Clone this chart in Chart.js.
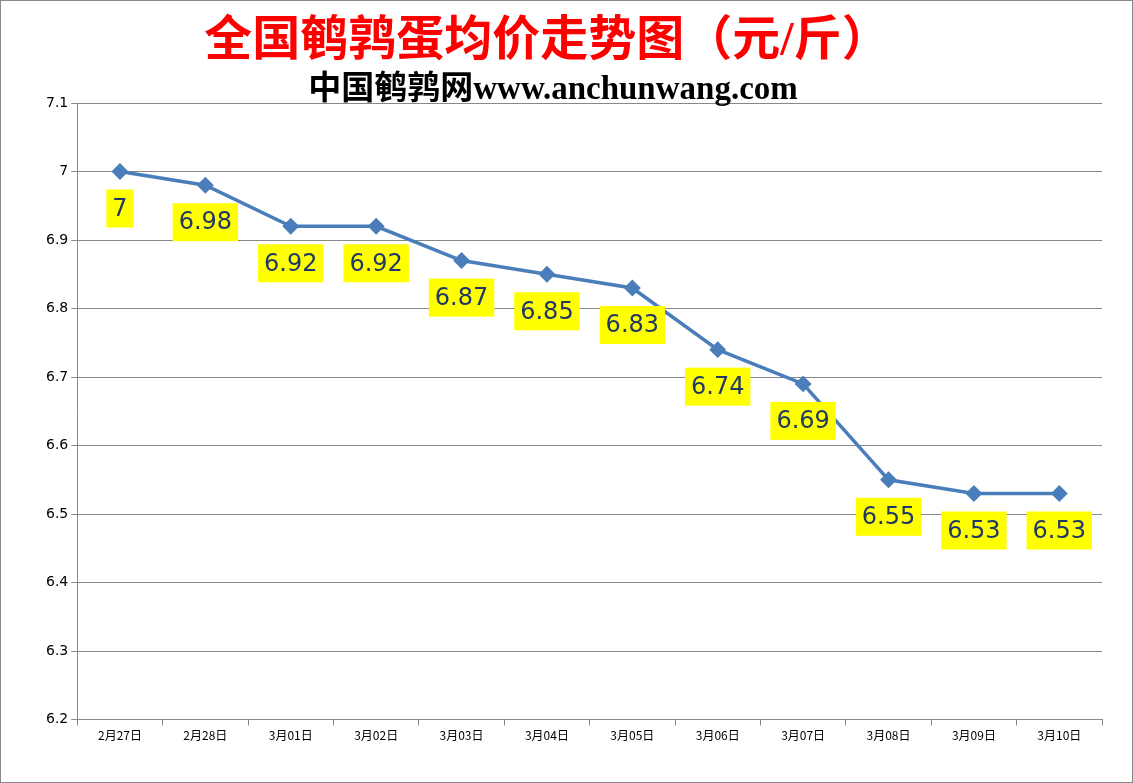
<!DOCTYPE html>
<html>
<head>
<meta charset="utf-8">
<script src="https://cdn.jsdelivr.net/npm/chart.js@4"></script>
<style>
  html, body { margin: 0; padding: 0; background: #fff; }
  #wrap { position: relative; width: 1131px; height: 781px; border: 1px solid #888; }
  #t1 { position: absolute; left: 0; width: 1092px; top: -2px; text-align: center;
        font: bold 48px "Liberation Serif", "Noto Sans CJK SC", serif; color: #ff0000; }
  #t2 { position: absolute; left: 0; width: 1104px; top: 60px; text-align: center;
        font: bold 33px "Liberation Serif", "Noto Sans CJK SC", serif; color: #000; }
  canvas { position: absolute; left: 0; top: 0; }
</style>
</head>
<body>
<div id="wrap">
  <canvas id="c" width="1131" height="781"></canvas>
  <div id="t1">全国鹌鹑蛋均价走势图（元/斤）</div>
  <div id="t2">中国鹌鹑网www.anchunwang.com</div>
</div>
<script>
// chart data
const categories = ['2月27日', '2月28日', '3月01日', '3月02日', '3月03日', '3月04日',
                    '3月05日', '3月06日', '3月07日', '3月08日', '3月09日', '3月10日'];
const prices = [7, 6.98, 6.92, 6.92, 6.87, 6.85, 6.83, 6.74, 6.69, 6.55, 6.53, 6.53];

// yellow value boxes under each point
const valueBoxes = {
    id: 'valueBoxes',
    afterDatasetsDraw(chart) {
        const ctx = chart.ctx;
        const meta = chart.getDatasetMeta(0);
        ctx.save();
        ctx.font = '24px "DejaVu Sans", sans-serif';
        ctx.textAlign = 'center';
        ctx.textBaseline = 'middle';
        meta.data.forEach(function (pt, i) {
            const txt = String(prices[i]);
            const w = ctx.measureText(txt).width + 12;
            const cy = pt.y + 37;
            ctx.fillStyle = '#ffff00';
            ctx.fillRect(pt.x - w / 2, cy - 19, w, 38);
            ctx.fillStyle = '#1f3864';
            ctx.fillText(txt, pt.x, cy + 1);
        });
        ctx.restore();
    }
};

new Chart(document.getElementById('c').getContext('2d'), {
    type: 'line',
    data: {
        labels: categories,
        datasets: [{
            data: prices,
            borderColor: '#4a7ebb',
            backgroundColor: '#4a7ebb',
            borderWidth: 3.5,
            pointStyle: 'rectRot',
            pointRadius: 6,
            tension: 0
        }]
    },
    plugins: [valueBoxes],
    options: {
        responsive: false,
        animation: false,
        layout: { padding: { top: 102, right: 30, bottom: 36, left: 42 } },
        plugins: { legend: { display: false }, tooltip: { enabled: false } },
        scales: {
            x: {
                offset: true,
                grid: { offset: true, drawOnChartArea: false, tickLength: 6, color: '#888' },
                border: { color: '#888' },
                ticks: { color: '#000', font: { size: 12, family: '"Noto Sans CJK SC", sans-serif' } }
            },
            y: {
                min: 6.2, max: 7.1,
                grid: { color: '#888', tickLength: 6 },
                border: { color: '#888' },
                ticks: { stepSize: 0.1, color: '#000', font: { size: 14, family: '"DejaVu Sans", sans-serif' },
                         callback: function (v) { return Math.round(v * 10) / 10; } }
            }
        }
    }
});
</script>
</body>
</html>
